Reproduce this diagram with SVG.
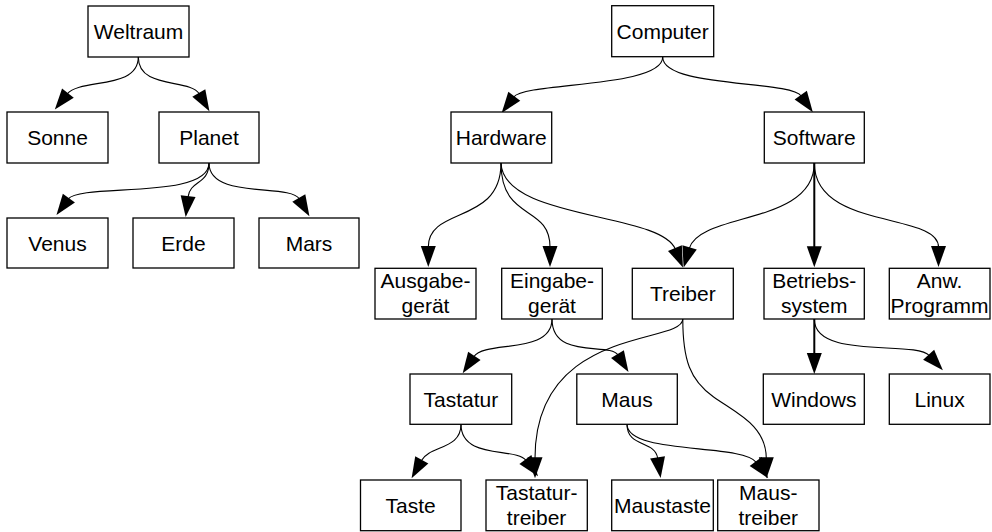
<svg xmlns="http://www.w3.org/2000/svg" width="992" height="532" viewBox="0 0 992 532">
<style>
.box{fill:#fff;stroke:#000;stroke-width:1.3}
.lbl{font-family:"Liberation Sans",Arial,sans-serif;font-size:21px;fill:#000;text-anchor:middle}
.e{fill:none;stroke:#000;stroke-width:1.1;marker-end:url(#ah)}
.thick{stroke-width:2}
</style>
<defs>
<marker id="ah" markerUnits="userSpaceOnUse" viewBox="0 -8 21 16" refX="1" refY="0" markerWidth="21" markerHeight="16" orient="auto" overflow="visible">
<path d="M0,-7.5 L21,0 L0,7.5 z" fill="#000"/>
</marker>
</defs>
<rect width="992" height="532" fill="#fff"/>
<g id="connectors">
<path class="e" d="M138.3,57 C138.3,90 80,78 67.3,93.9"/>
<path class="e" d="M138.3,57 C138.3,90 190,78 199.3,93.9"/>
<path class="e" d="M209,163 C209,200 80,183 68.3,198.9"/>
<path class="e" d="M209,163 C209,185 190,180 188,197.1"/>
<path class="e" d="M209,163 C209,200 290,183 299.3,198.9"/>
<path class="e" d="M662.7,57 C662.7,88 525,82 513.7,97"/>
<path class="e" d="M662.7,57 C662.7,88 790,80 801.3,96"/>
<path class="e" d="M501,163 C501,225 428.3,206 428.3,247"/>
<path class="e" d="M501,163 C501,222 550,204 550,247"/>
<path class="e" d="M501,163 C503,220 660,212 675.3,249"/>
<path class="e" d="M814.3,163 C814.3,225 700,212 689.3,248.3"/>
<path class="e thick" d="M814.3,163 L814.3,247.3"/>
<path class="e" d="M814.3,163 C814.3,230 938.5,212 938.5,247"/>
<path class="e" d="M552,319 C552,355 485,340 473.8,356.7"/>
<path class="e" d="M552,319 C552,360 610,342 618,355"/>
<path class="e" d="M682.8,319 C682.8,345 535,325 535,458.3"/>
<path class="e" d="M682.8,319 C682.8,360 690,380 713.3,396.7 C736.6,413.4 766,425 766.3,458.3"/>
<path class="e thick" d="M814.3,319 L814.3,354"/>
<path class="e" d="M814.3,319 C814.3,360 915,340 929.3,355.5"/>
<path class="e" d="M461,424.3 C461,450 430,445 421.3,460.7"/>
<path class="e" d="M461,424.3 C461,460 516,447 526,460.3"/>
<path class="e" d="M627,424.3 C627,448 655,440 657.7,458.3"/>
<path class="e" d="M627,424.3 C627,455 742,443 756.3,462.3"/>
</g>
<g id="n-weltraum"><rect class="box" x="88" y="6" width="101" height="51"/><text class="lbl" x="138.5" y="39">Weltraum</text></g>
<g id="n-sonne"><rect class="box" x="7" y="112" width="101" height="51"/><text class="lbl" x="57.5" y="144.5">Sonne</text></g>
<g id="n-planet"><rect class="box" x="159" y="112" width="100" height="51"/><text class="lbl" x="209" y="144.5">Planet</text></g>
<g id="n-venus"><rect class="box" x="7" y="218" width="101" height="50"/><text class="lbl" x="57.5" y="250.5">Venus</text></g>
<g id="n-erde"><rect class="box" x="133" y="218" width="101" height="50"/><text class="lbl" x="183.5" y="250.5">Erde</text></g>
<g id="n-mars"><rect class="box" x="259" y="218" width="100" height="50"/><text class="lbl" x="309" y="250.5">Mars</text></g>
<g id="n-computer"><rect class="box" x="611.7" y="5.7" width="102" height="51"/><text class="lbl" x="662.7" y="38.7">Computer</text></g>
<g id="n-hardware"><rect class="box" x="451" y="112" width="100.7" height="51"/><text class="lbl" x="501.3" y="144.5">Hardware</text></g>
<g id="n-software"><rect class="box" x="764.3" y="112" width="100" height="51"/><text class="lbl" x="814.3" y="144.5">Software</text></g>
<g id="n-ausgabegeraet"><rect class="box" x="375" y="268.3" width="101" height="50.7"/><text class="lbl" x="425.5" y="288.3">Ausgabe-</text><text class="lbl" x="425.5" y="313.3">gerät</text></g>
<g id="n-eingabegeraet"><rect class="box" x="501.7" y="268.3" width="100.6" height="50.7"/><text class="lbl" x="552" y="288.3">Eingabe-</text><text class="lbl" x="552" y="313.3">gerät</text></g>
<g id="n-treiber"><rect class="box" x="632.3" y="268.3" width="101" height="50.7"/><text class="lbl" x="682.8" y="301">Treiber</text></g>
<g id="n-betriebssystem"><rect class="box" x="764" y="268.3" width="100.3" height="50.7"/><text class="lbl" x="814.2" y="288.3">Betriebs-</text><text class="lbl" x="814.2" y="313.3">system</text></g>
<g id="n-anwprogramm"><rect class="box" x="889.3" y="268.3" width="100.7" height="50.7"/><text class="lbl" x="939.6" y="288.3">Anw.</text><text class="lbl" x="939.6" y="313.3">Programm</text></g>
<g id="n-tastatur"><rect class="box" x="410" y="374" width="101.7" height="50.3"/><text class="lbl" x="460.9" y="406.5">Tastatur</text></g>
<g id="n-maus"><rect class="box" x="576.8" y="374" width="100.5" height="50.3"/><text class="lbl" x="627" y="406.5">Maus</text></g>
<g id="n-windows"><rect class="box" x="763.3" y="374" width="101" height="50.3"/><text class="lbl" x="813.8" y="406.5">Windows</text></g>
<g id="n-linux"><rect class="box" x="889.3" y="374" width="100.7" height="50.3"/><text class="lbl" x="939.6" y="406.5">Linux</text></g>
<g id="n-taste"><rect class="box" x="360.5" y="480" width="100.5" height="50.7"/><text class="lbl" x="410.7" y="512.5">Taste</text></g>
<g id="n-tastaturtreiber"><rect class="box" x="486" y="480" width="101.3" height="50.7"/><text class="lbl" x="536.6" y="500">Tastatur-</text><text class="lbl" x="536.6" y="525">treiber</text></g>
<g id="n-maustaste"><rect class="box" x="611.7" y="480" width="101.6" height="50.7"/><text class="lbl" x="662.5" y="512.5">Maustaste</text></g>
<g id="n-maustreiber"><rect class="box" x="717.7" y="480" width="101.3" height="50.7"/><text class="lbl" x="768.3" y="500">Maus-</text><text class="lbl" x="768.3" y="525">treiber</text></g>
</svg>
